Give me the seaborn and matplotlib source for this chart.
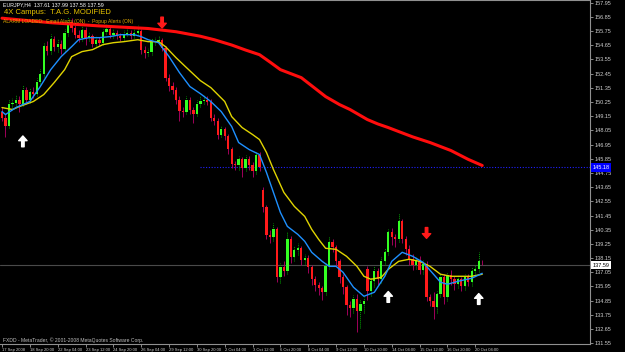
import matplotlib
matplotlib.use("Agg")
import matplotlib.pyplot as plt
import matplotlib.transforms as mtransforms
import numpy as np
import pandas as pd
import seaborn as sns

# ---------------- data (EURJPY, H4) ----------------
opens = [149.51, 149.05, 148.43, 150.13, 150.21, 150.44, 150.13, 151.21, 150.44, 151.06,
         150.90, 151.83, 152.45, 154.62, 154.23, 155.16, 154.54, 154.77, 154.39, 155.63,
         156.48, 156.01, 155.47, 155.24, 155.86, 155.24, 155.39, 154.77, 155.08, 154.85,
         155.70, 155.94, 155.47, 155.63, 155.39, 155.24, 155.55, 155.63, 155.39, 155.63,
         155.78, 154.31, 154.08, 154.16, 154.93, 155.01, 155.08, 154.47, 152.14, 151.52,
         151.21, 150.44, 149.59, 149.51, 150.44, 149.67, 149.36, 150.13, 150.36, 150.44,
         150.29, 149.05, 148.81, 147.73, 148.12, 147.58, 146.57, 145.41, 145.33, 145.80,
         145.10, 145.87, 145.33, 144.87, 146.18, 143.45, 142.08, 139.91, 139.76, 140.38,
         136.66, 137.44, 137.13, 139.60, 138.21, 138.75, 138.91, 137.98, 138.13, 137.44,
         136.51, 136.04, 135.81, 135.50, 137.51, 139.37, 138.98, 137.90, 136.66, 135.89,
         134.50, 134.26, 134.96, 134.03, 134.57, 137.28, 135.58, 136.35, 137.13, 136.50,
         137.90, 138.60, 140.15, 139.76, 139.60, 141.00, 139.60, 138.83, 138.06, 137.59,
         137.90, 137.21, 137.67, 135.12, 134.81, 134.34, 135.35, 136.66, 135.12, 136.82,
         136.51, 136.12, 136.51, 135.97, 136.66, 136.27, 137.13, 137.28, 137.61]
highs = [149.90, 149.30, 150.45, 150.55, 150.80, 150.70, 151.60, 151.45, 151.35, 151.40,
         152.10, 152.80, 154.90, 155.00, 155.55, 155.40, 155.10, 155.05, 155.90, 156.85,
         156.75, 156.20, 155.80, 156.20, 156.10, 155.70, 155.55, 155.35, 155.30, 155.95,
         156.30, 156.10, 155.90, 155.85, 155.60, 155.85, 155.95, 155.80, 155.95, 156.20,
         155.90, 154.60, 154.45, 155.20, 155.30, 155.40, 155.25, 154.60, 152.40, 151.80,
         151.40, 150.70, 149.90, 150.75, 150.65, 149.90, 150.40, 150.70, 150.80, 150.70,
         150.45, 149.35, 149.00, 148.40, 148.35, 147.75, 146.75, 145.70, 146.10, 146.00,
         146.15, 146.05, 145.60, 146.40, 146.40, 143.70, 142.30, 140.30, 140.90, 140.55,
         137.80, 137.90, 140.20, 139.85, 139.10, 139.30, 139.10, 138.50, 138.40, 137.60,
         136.80, 136.30, 136.00, 137.80, 139.90, 139.60, 139.20, 138.10, 136.90, 136.10,
         134.80, 135.30, 135.40, 134.90, 135.10, 137.50, 136.70, 137.50, 137.35, 138.20,
         138.90, 140.40, 140.50, 140.05, 141.65, 141.20, 139.85, 139.20, 138.50, 138.25,
         138.30, 138.00, 137.90, 135.40, 135.50, 135.60, 136.95, 136.90, 137.10, 137.20,
         136.80, 136.85, 136.70, 136.95, 136.90, 137.45, 137.60, 138.65, 137.99]
lows = [148.80, 147.55, 148.20, 149.80, 149.95, 149.50, 149.95, 150.10, 150.20, 150.55,
        150.70, 151.60, 152.20, 153.90, 153.95, 154.20, 154.10, 153.95, 154.20, 155.40,
        155.70, 155.20, 154.90, 155.00, 154.70, 154.95, 154.50, 154.55, 154.60, 154.70,
        155.50, 155.25, 155.20, 155.15, 155.00, 155.05, 155.35, 155.15, 155.25, 155.45,
        154.00, 153.70, 153.80, 153.90, 154.70, 154.80, 154.20, 151.90, 151.10, 150.85,
        150.10, 148.80, 149.10, 149.30, 149.35, 148.65, 149.15, 149.90, 150.10, 150.00,
        148.80, 148.50, 147.40, 147.50, 147.30, 146.20, 145.10, 145.00, 144.95, 144.40,
        144.90, 145.00, 144.40, 144.70, 144.90, 141.75, 139.60, 139.30, 139.50, 136.30,
        136.20, 136.80, 136.95, 137.80, 137.90, 138.40, 137.60, 137.70, 137.00, 136.10,
        135.60, 135.30, 134.90, 135.30, 137.30, 138.60, 137.50, 136.20, 135.40, 133.70,
        133.60, 133.90, 132.40, 132.70, 133.90, 134.90, 135.20, 135.90, 136.10, 136.20,
        137.60, 138.40, 139.20, 139.00, 139.40, 139.30, 138.40, 137.60, 137.20, 137.30,
        136.90, 136.95, 134.80, 134.40, 133.40, 133.90, 135.10, 134.60, 134.80, 136.10,
        135.70, 135.80, 135.60, 135.70, 135.95, 136.00, 136.90, 137.05, 137.58]
closes = [149.05, 148.43, 150.13, 150.21, 150.44, 150.13, 151.21, 150.44, 151.06, 150.90,
          151.83, 152.45, 154.62, 154.23, 155.16, 154.54, 154.77, 154.39, 155.63, 156.48,
          156.01, 155.47, 155.24, 155.86, 155.24, 155.39, 154.77, 155.08, 154.85, 155.70,
          155.94, 155.47, 155.63, 155.39, 155.24, 155.55, 155.63, 155.39, 155.63, 155.78,
          154.31, 154.08, 154.16, 154.93, 155.01, 155.08, 154.47, 152.14, 151.52, 151.21,
          150.44, 149.59, 149.51, 150.44, 149.67, 149.36, 150.13, 150.36, 150.44, 150.29,
          149.05, 148.81, 147.73, 148.12, 147.58, 146.57, 145.41, 145.33, 145.80, 145.10,
          145.87, 145.33, 144.87, 146.18, 145.18, 142.08, 139.91, 139.76, 140.38, 136.66,
          137.44, 137.13, 139.60, 138.21, 138.75, 138.91, 137.98, 138.13, 137.44, 136.51,
          136.04, 135.81, 135.50, 137.51, 139.37, 138.98, 137.90, 136.66, 135.89, 134.50,
          134.26, 134.96, 134.03, 134.57, 134.81, 135.58, 136.35, 137.13, 136.50, 137.90,
          138.60, 140.15, 139.76, 139.60, 141.00, 139.60, 138.83, 138.06, 137.59, 137.90,
          137.21, 137.67, 135.12, 134.81, 134.34, 135.35, 136.66, 135.12, 136.82, 136.51,
          136.12, 136.51, 135.97, 136.66, 136.27, 137.13, 137.28, 137.90, 137.59]

date_tick_bars = [0, 8, 16, 24, 32, 40, 48, 56, 64, 72, 80, 88, 96, 104, 112, 120, 128, 136]
date_labels = ["17 Sep 2008", "18 Sep 20:00", "22 Sep 04:00", "23 Sep 12:00", "24 Sep 20:00",
               "26 Sep 04:00", "29 Sep 12:00", "30 Sep 20:00", "2 Oct 04:00", "3 Oct 12:00",
               "6 Oct 20:00", "8 Oct 04:00", "9 Oct 12:00", "10 Oct 20:00", "14 Oct 04:00",
               "15 Oct 12:00", "16 Oct 20:00", "20 Oct 04:00"]

price_ticks = [131.55, 132.65, 133.75, 134.85, 135.95, 137.05, 138.15, 139.25, 140.35,
               141.45, 142.55, 143.65, 144.75, 145.85, 146.95, 148.05, 149.15, 150.25,
               151.35, 152.45, 153.55, 154.65, 155.75, 156.85, 157.95]

red_ma_bars = [0, 14, 28, 42, 50, 57, 61, 66, 70, 74, 77, 80, 86, 90, 93, 97, 100, 105, 108,
               111, 114, 118, 123, 129, 134, 138]
red_ma_vals = [156.75, 156.40, 156.15, 155.95, 155.70, 155.35, 155.08, 154.67, 154.28, 153.92,
               153.35, 152.76, 152.14, 151.30, 150.67, 150.05, 149.67, 148.89, 148.55,
               148.27, 147.96, 147.55, 147.11, 146.49, 145.80, 145.33]

blue_ma_bars = [0, 1, 4, 8, 11, 14, 17, 20, 22, 25, 28, 31, 34, 38, 40, 42, 45, 48, 51, 54,
                57, 60, 63, 66, 68, 71, 74, 76, 78, 80, 82, 85, 87, 89, 92, 94, 96, 98, 101, 104,
                107, 110, 112, 115, 118, 121, 124, 126, 128, 131, 135, 138]
blue_ma_vals = [149.51, 149.28, 149.82, 150.29, 151.45, 152.76, 153.77, 154.54, 155.08, 155.24,
                155.24, 155.32, 155.47, 155.47, 155.32, 155.08, 154.85, 153.77, 152.53, 151.45,
                150.90, 150.29, 149.51, 148.35, 147.11, 146.57, 146.18, 144.79, 143.24, 141.69,
                140.61, 139.99, 139.45, 138.60, 137.90, 137.51, 137.51, 137.05, 135.89, 135.19,
                135.50, 136.74, 137.90, 138.60, 138.29, 137.82, 136.90, 136.28, 136.12, 136.35,
                136.59, 136.97]

yellow_ma_bars = [0, 3, 5, 9, 12, 15, 18, 20, 23, 26, 29, 32, 35, 39, 42, 45, 47, 50, 53, 57,
                  60, 64, 66, 69, 72, 74, 76, 78, 81, 84, 87, 89, 91, 93, 96, 99, 102, 104, 106, 109,
                  111, 114, 117, 120, 123, 126, 129, 132, 135, 138]
yellow_ma_vals = [149.82, 149.67, 149.90, 150.29, 150.83, 151.76, 152.76, 153.77, 154.16, 154.31,
                  154.70, 154.85, 154.93, 155.08, 154.93, 154.93, 154.54, 153.69, 152.92, 151.91,
                  151.37, 150.29, 149.12, 148.27, 147.73, 147.34, 146.34, 145.02, 143.24, 142.16,
                  141.38, 140.38, 139.60, 138.91, 138.83, 138.29, 137.51, 136.74, 136.51, 136.66,
                  137.28, 137.90, 138.06, 137.90, 137.51, 136.90, 136.74, 136.74, 136.74, 136.90]

up_arrow_bars = [6, 111, 137]
up_arrow_prices = [147.20, 135.14, 134.98]
down_arrow_bars = [46, 122]
down_arrow_prices = [156.41, 140.10]

level_price = 145.18
level_start_bar = 57
last_price = 137.59

header_symbol = "EURJPY,H4  137.61 137.99 137.58 137.59"
header_title = "4X Campus:  T.A.G. MODIFIED"
header_alarm = "ALARM LOADED:  Email Alerts (ON)  -  Popup Alerts (ON)"
footer_text = "FXDD - MetaTrader, \u00a9 2001-2008 MetaQuotes Software Corp."

# ---------------- style ----------------
sns.set_style("dark", {"axes.facecolor": "black", "figure.facecolor": "black"})
plt.rcParams['font.family'] = ['Liberation Sans', 'DejaVu Sans']

W, H = 625, 352
fig = plt.figure(figsize=(W / 100, H / 100), dpi=100)
fig.patch.set_facecolor('black')
ax = fig.add_axes([0, 8 / H, 590 / W, 1 - 8 / H])
ax.set_facecolor('black')
ax.grid(False)

# ---------------- candles ----------------
bars = np.arange(len(closes))
o = np.array(opens); c = np.array(closes); hi = np.array(highs); lo = np.array(lows)
bull = c >= o
ax.vlines(bars[bull], lo[bull], hi[bull], colors='#00a000', linewidth=0.7,
          linestyles=(0, (1, 1)), zorder=2)
ax.vlines(bars[~bull], lo[~bull], hi[~bull], colors='#a0005a', linewidth=0.7, zorder=2)
body = np.maximum(np.abs(c - o), 0.05)
ax.bar(bars[bull], body[bull], bottom=o[bull], width=0.66, color='#33ff22', linewidth=0, zorder=3)
ax.bar(bars[~bull], body[~bull], bottom=c[~bull], width=0.66, color='#ff1a1a', linewidth=0, zorder=3)

# ---------------- moving averages ----------------
sns.lineplot(x=red_ma_bars, y=red_ma_vals, color='#ff0d0d', linewidth=2.2, ax=ax,
             estimator=None, sort=False, zorder=5)
sns.lineplot(x=yellow_ma_bars, y=yellow_ma_vals, color='#e0d400', linewidth=1.0, ax=ax,
             estimator=None, sort=False, zorder=6)
sns.lineplot(x=blue_ma_bars, y=blue_ma_vals, color='#1e90ff', linewidth=1.0, ax=ax,
             estimator=None, sort=False, zorder=6)

# ---------------- axes limits ----------------
x_left, x_right = -0.575, 168.97
ax.set_xlim(x_left, x_right)
ax.set_ylim(131.49, 158.16)

# horizontal levels
ax.axhline(last_price, color='#4a4a4a', linewidth=0.8, zorder=1)
ax.hlines(level_price, level_start_bar, x_right, colors='#2020ff', linewidth=0.8,
          linestyles=(0, (1, 1.5)), zorder=1)

# ---------------- arrows ----------------
for b, p in zip(up_arrow_bars, up_arrow_prices):
    ax.annotate('', xy=(b, p + 0.42), xytext=(b, p - 0.42),
                arrowprops=dict(width=1.8, headwidth=6.0, headlength=3.4, facecolor='white',
                                edgecolor='white', shrink=0), zorder=7)
for b, p in zip(down_arrow_bars, down_arrow_prices):
    ax.annotate('', xy=(b, p - 0.42), xytext=(b, p + 0.42),
                arrowprops=dict(width=1.8, headwidth=6.0, headlength=3.4, facecolor='#ff1a1a',
                                edgecolor='#ff1a1a', shrink=0), zorder=7)

# ---------------- axes decoration ----------------
ax.yaxis.tick_right()
ax.set_yticks(price_ticks)
ax.set_yticklabels([f"{v:.2f}" for v in price_ticks])
ax.tick_params(axis='y', colors='#a0a0a0', labelcolor='#d0d0d0', labelsize=4, length=2,
               width=0.6, pad=1.5, right=True, left=False)
ax.set_xticks(date_tick_bars)
ax.set_xticklabels(date_labels, ha='left')
ax.tick_params(axis='x', colors='#a0a0a0', labelcolor='#d0d0d0', labelsize=3.0, length=2,
               width=0.6, pad=0.6, bottom=True)
ax.set_xlabel(''); ax.set_ylabel('')
for side in ['right', 'bottom', 'top']:
    ax.spines[side].set_visible(True)
    ax.spines[side].set_color('#909090')
    ax.spines[side].set_linewidth(0.8)
ax.spines['left'].set_visible(False)

trans = mtransforms.blended_transform_factory(ax.transAxes, ax.transData)
ax.text(1.004, level_price, f"{level_price:.2f}", transform=trans, ha='left', va='center',
        fontsize=4, color='white', clip_on=False, zorder=10,
        bbox=dict(boxstyle='square,pad=0.3', fc='#0000ff', ec='none'))
ax.text(1.004, last_price, f"{last_price:.2f}", transform=trans, ha='left', va='center',
        fontsize=4, color='black', clip_on=False, zorder=10,
        bbox=dict(boxstyle='square,pad=0.3', fc='white', ec='none'))

# ---------------- header / footer text ----------------
fig.text(3 / W, 1 - 4.5 / H, header_symbol, color='white', fontsize=3.8, va='center')
fig.text(4 / W, 1 - 12.5 / H, header_title, color='#e6c200', fontsize=5.5, va='center')
fig.text(3 / W, 1 - 21 / H, header_alarm, color='#e0a800', fontsize=3.6, va='center')
fig.text(3 / W, 1 - 340.5 / H, footer_text, color='#c0c0c0', fontsize=3.6, va='center')

fig.savefig('out.png', dpi=100, facecolor='black')
